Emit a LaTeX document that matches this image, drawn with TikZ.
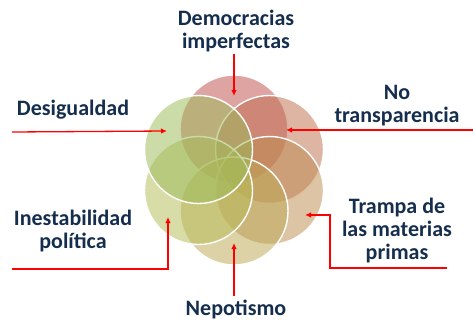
\documentclass[tikz,border=0pt]{standalone}
\usepackage{fontspec}
\setmainfont{Carlito}
\usetikzlibrary{arrows.meta}
\definecolor{cA}{HTML}{C0504D}
\definecolor{cB}{HTML}{BF6F4F}
\definecolor{cC}{HTML}{BE8D51}
\definecolor{cD}{HTML}{BDA954}
\definecolor{cE}{HTML}{B5BC57}
\definecolor{cF}{HTML}{9BBB59}
\definecolor{navy}{HTML}{152E4E}
\definecolor{arrred}{HTML}{FF0000}
\begin{document}
\begin{tikzpicture}[x=1pt,y=-1pt,
  petal/.style={circle,minimum size=108pt,inner sep=0pt,draw=white,line width=1.4pt,fill opacity=0.52},
  lbl/.style={font=\fontsize{22}{23}\selectfont\bfseries,text=navy,align=center,inner sep=0pt,anchor=north},
  arr/.style={draw=arrred,line width=1.3pt,-{Latex[length=6pt,width=5.5pt]}}]
\useasboundingbox (0,0) rectangle (473,321);
% petals, drawn clockwise from the top
\node[petal,fill=cA] (p1) at (234,129) {};
\node[petal,fill=cB] (p2) at (269.5,149.5) {};
\node[petal,fill=cC] (p3) at (269.5,190.5) {};
\node[petal,fill=cD] (p4) at (234,211) {};
\node[petal,fill=cE] (p5) at (198.5,190.5) {};
\node[petal,fill=cF] (p6) at (198.5,149.5) {};
% labels
\node[lbl] (l1) at (236,10) {Democracias\\imperfectas};
\node[lbl] (l2) at (397,85) {No\\transparencia};
\node[lbl] (l3) at (397,198) {Trampa de\\las materias\\primas};
\node[lbl] (l4) at (236,300) {Nepotismo};
\node[lbl] (l5) at (73,210) {Inestabilidad\\política};
\node[lbl] (l6) at (73,100) {Desigualdad};
% connector ends
\coordinate (a1s) at (234,54);  \coordinate (a1e) at (234,96);
\coordinate (a2s) at (473,130); \coordinate (a2e) at (286,130);
\coordinate (a3s) at (447,268); \coordinate (a3m) at (330,268); \coordinate (a3e) at (305,215);
\coordinate (a4s) at (234,296); \coordinate (a4e) at (234,243);
\coordinate (a5s) at (12,269);  \coordinate (a5e) at (168,217);
\coordinate (a6s) at (12,132);  \coordinate (a6e) at (167,131);
\draw[arr] (a1s) -- (a1e);
\draw[arr] (a2s) -- (a2e);
\draw[arr] (a3s) -- (a3m) |- (a3e);
\draw[arr] (a4s) -- (a4e);
\draw[arr] (a5s) -| (a5e);
\draw[arr] (a6s) -- (a6e);
\end{tikzpicture}
\end{document}
